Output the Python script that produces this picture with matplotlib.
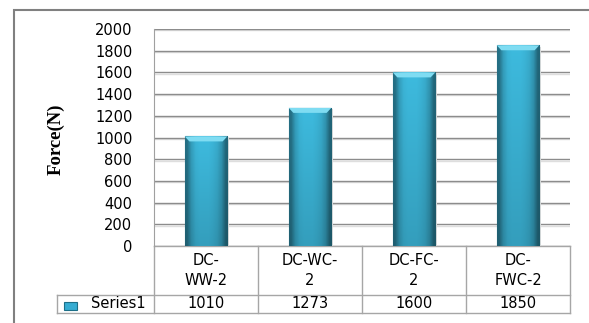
import numpy as np
import matplotlib
matplotlib.use("Agg")
import matplotlib.pyplot as plt
from matplotlib.patches import Rectangle, Polygon
import matplotlib.patheffects as pe
import matplotlib.transforms as mtransforms

# data
categories = ["DC-\nWW-2", "DC-WC-\n2", "DC-FC-\n2", "DC-\nFWC-2"]
values = [1010, 1273, 1600, 1850]
series_name = "Series1"
yticks = [0, 200, 400, 600, 800, 1000, 1200, 1400, 1600, 1800, 2000]

W, H = 589, 323
fig = plt.figure(figsize=(W / 100, H / 100), dpi=100)

# plot area in pixels: x 154..570, y 29..246
ax = fig.add_axes([154 / W, 1 - 246 / H, 416 / W, 217 / H])

ax.set_yticks(yticks)
ax.set_xticks([])
ax.tick_params(axis="y", length=0, pad=15.5, labelsize=10.5, labelcolor="black")
ax.yaxis.grid(True, color="#8c8c8c", lw=1,
              path_effects=[pe.SimpleLineShadow(offset=(0, -1), shadow_color="#dedede", alpha=1),
                            pe.Normal()])
ax.set_axisbelow(True)
for s in ["top", "right", "bottom"]:
    ax.spines[s].set_visible(False)
ax.spines["left"].set_color("#a0a0a0")

x = np.arange(len(values))
bars = ax.bar(x, values, width=0.41, color="#38b4d8", edgecolor="#1c6f88", lw=0.8, zorder=3)

# gradient fill for each bar (darker edges and bottom)
prof = np.array([0.6, 0.85, 0.97, 1.0, 1.0, 1.0, 0.97, 0.92, 0.8, 0.55])
base = np.array([0.24, 0.73, 0.87])
vert = np.linspace(0.85, 1.0, 30)[::-1]
img = np.clip(base[None, None, :] * prof[None, :, None] * vert[:, None, None], 0, 1)
for b in bars:
    x0, w, h = b.get_x(), b.get_width(), b.get_height()
    im = ax.imshow(img, extent=[x0, x0 + w, 0, h], aspect="auto", zorder=3.5,
                   interpolation="bilinear")
    im.set_clip_path(b)
    dx = w * 0.11
    dy = 2000 * 5 / 217
    ax.add_patch(Polygon([[x0, h], [x0 + w, h], [x0 + w - dx, h - dy], [x0 + dx, h - dy]],
                         closed=True, fc="#7fdcf2", ec="none", zorder=4))
    ax.add_patch(Rectangle((x0 + w, 0), w * 0.05, h * 0.99, fc="#dcdcdc", ec="none", zorder=2.5))
ax.set_xlim(-0.5, len(values) - 0.5)
ax.set_ylim(0, 2000)

# data table underneath (x in data units, y in axes fraction)
tr = mtransforms.blended_transform_factory(ax.transData, ax.transAxes)
gc = "#a6a6a6"
y_top, y_mid, y_bot = 0, -49 / 217, -67 / 217
x_lab = -0.5 - 97 / 104
xl, xr = -0.5, len(values) - 0.5
ax.plot([xl, xr], [y_top, y_top], color=gc, lw=1, transform=tr, clip_on=False)
ax.plot([x_lab, xr], [y_mid, y_mid], color=gc, lw=1, transform=tr, clip_on=False)
ax.plot([x_lab, xr], [y_bot, y_bot], color=gc, lw=1, transform=tr, clip_on=False)
ax.plot([x_lab, x_lab], [y_mid, y_bot], color=gc, lw=1, transform=tr, clip_on=False)
for i in range(len(values) + 1):
    ax.plot([i - 0.5, i - 0.5], [y_top, y_bot], color=gc, lw=1, transform=tr, clip_on=False)
for i, (c, v) in enumerate(zip(categories, values)):
    ax.text(i, (y_top + y_mid) / 2, c, transform=tr, ha="center", va="center",
            fontsize=10.5, linespacing=1.35)
    ax.text(i, (y_mid + y_bot) / 2, str(v), transform=tr, ha="center", va="center",
            fontsize=10.5)
ax.text(-0.5 - 8 / 104, (y_mid + y_bot) / 2, series_name, transform=tr, ha="right",
        va="center", fontsize=10.5)

# legend key in the row label cell
fig.patches.append(Rectangle((64 / W, 1 - 310 / H), 13 / W, 8 / H, transform=fig.transFigure,
                             fc="#36acd2", ec="#1c6f88", lw=0.8))

fig.text(56 / W, 1 - 139 / H, "Force(N)", rotation=90, ha="center", va="center",
         family="Liberation Serif", weight="bold", fontsize=13.5)

# outer chart frame
fig.patches.append(Rectangle((14 / W, -0.1), 1.0, 1 - 10 / H + 0.1, transform=fig.transFigure,
                             fill=False, ec="#808080", lw=1.5))

fig.savefig("out.png", dpi=100)
